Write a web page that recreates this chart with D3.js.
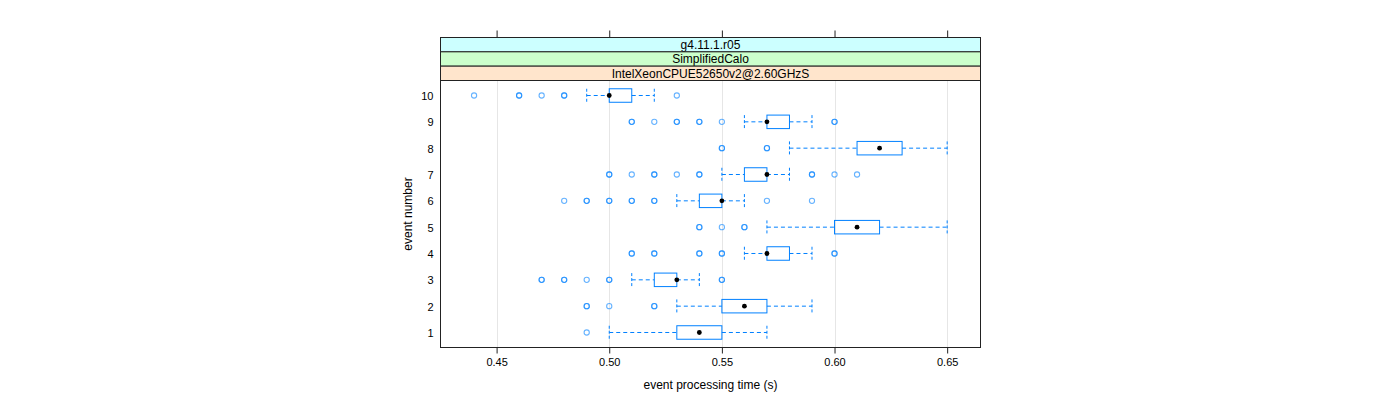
<!DOCTYPE html>
<html><head><meta charset="utf-8">
<script src="https://cdn.jsdelivr.net/npm/d3@7"></script>
<style>
html,body{margin:0;padding:0;background:#fff;}
svg{display:block;font-family:"Liberation Sans",Arial,sans-serif;}
</style></head>
<body><svg id="chart" width="1400" height="400"></svg>
<script>
// ---- data ----
const events = [1,2,3,4,5,6,7,8,9,10];
const lowerWhisker = [0.50,0.53,0.51,0.56,0.57,0.53,0.55,0.58,0.56,0.49];
const q1           = [0.53,0.55,0.52,0.57,0.60,0.54,0.56,0.61,0.57,0.50];
const medians      = [0.54,0.56,0.53,0.57,0.61,0.55,0.57,0.62,0.57,0.50];
const q3           = [0.55,0.57,0.53,0.58,0.62,0.55,0.57,0.63,0.58,0.51];
const upperWhisker = [0.57,0.59,0.54,0.59,0.65,0.56,0.58,0.65,0.59,0.52];
// outliers per event: [value, number of coinciding points]
const outliers = [
  [[0.49,1]],
  [[0.49,2],[0.50,1],[0.52,2]],
  [[0.47,2],[0.48,2],[0.49,1],[0.50,2],[0.55,2]],
  [[0.51,2],[0.52,2],[0.54,2],[0.55,2],[0.60,2]],
  [[0.54,2],[0.55,1],[0.56,2]],
  [[0.48,1],[0.49,2],[0.50,2],[0.51,2],[0.52,2],[0.57,1],[0.59,1]],
  [[0.50,2],[0.51,1],[0.52,2],[0.53,1],[0.54,2],[0.59,2],[0.60,1],[0.61,1]],
  [[0.55,2],[0.57,2]],
  [[0.51,2],[0.52,1],[0.53,2],[0.54,2],[0.55,1],[0.60,2]],
  [[0.44,1],[0.46,2],[0.47,1],[0.48,2],[0.53,1]]
];
const xTicks = [0.45,0.50,0.55,0.60,0.65];
const stripLabels = ["g4.11.1.r05","SimplifiedCalo","IntelXeonCPUE52650v2@2.60GHzS"];
const stripColors = ["#ccffff","#ccffcc","#ffe5cc"];
const xTitle = "event processing time (s)";
const yTitle = "event number";

// ---- layout ----
const L = 440.5, R = 980.5, T = 80.5, B = 347.5;
const stripTop = 37.5, stripH = (T - stripTop) / 3;
const blue = "#0080ff";

const x = d3.scaleLinear().domain([0.4251, 0.6648]).range([L, R]);
const y = d3.scaleLinear().domain([0.43, 10.57]).range([B, T]);
const boxH = 13.5;

const svg = d3.select("#chart");

// gridlines
svg.append("g").selectAll("line").data(xTicks).join("line")
  .attr("x1", d => Math.round(x(d)) + 0.5).attr("x2", d => Math.round(x(d)) + 0.5)
  .attr("y1", T).attr("y2", B)
  .attr("stroke", "#e6e6e6").attr("stroke-width", 1);

// strips
const strips = svg.append("g");
stripLabels.forEach((lab, i) => {
  const y0 = stripTop + i * stripH;
  strips.append("rect").attr("x", L).attr("y", y0).attr("width", R - L).attr("height", stripH)
    .attr("fill", stripColors[i]).attr("stroke", "#222").attr("stroke-width", 1);
  strips.append("text").attr("x", (L + R) / 2).attr("y", y0 + stripH / 2 + 4.3)
    .attr("text-anchor", "middle").attr("font-size", 12).attr("fill", "#000").text(lab);
});

// panel border
svg.append("rect").attr("x", L).attr("y", T).attr("width", R - L).attr("height", B - T)
  .attr("fill", "none").attr("stroke", "#222").attr("stroke-width", 1);

// axes
const xb = svg.append("g").attr("transform", `translate(0,${B})`)
  .call(d3.axisBottom(x).tickValues(xTicks).tickFormat(d3.format(".2f")).tickSize(6).tickPadding(5));
const xt = svg.append("g").attr("transform", `translate(0,${stripTop})`)
  .call(d3.axisTop(x).tickValues(xTicks).tickFormat("").tickSize(7));
const yl = svg.append("g").attr("transform", `translate(${L},0)`)
  .call(d3.axisLeft(y).tickValues(events).tickFormat(d3.format("d")).tickSize(0).tickPadding(7));
[xb, xt, yl].forEach(g => {
  g.select(".domain").remove();
  g.selectAll("line").attr("stroke", "#222");
  g.selectAll("text").attr("font-size", 11).attr("fill", "#000")
    .attr("font-family", '"Liberation Sans",Arial,sans-serif');
});
yl.selectAll("text").attr("dy", "0.35em");

// titles
svg.append("text").attr("x", (L + R) / 2).attr("y", 389).attr("text-anchor", "middle")
  .attr("font-size", 12).text(xTitle);
svg.append("text").attr("transform", `translate(412,${(T + B) / 2}) rotate(-90)`)
  .attr("text-anchor", "middle").attr("font-size", 12).text(yTitle);

// boxes
const g = svg.append("g");
events.forEach((ev, i) => {
  const cy = y(ev);
  const dash = "4,3";
  // whiskers
  g.append("line").attr("x1", x(lowerWhisker[i])).attr("x2", x(q1[i])).attr("y1", cy).attr("y2", cy)
    .attr("stroke", blue).attr("stroke-dasharray", dash);
  g.append("line").attr("x1", x(q3[i])).attr("x2", x(upperWhisker[i])).attr("y1", cy).attr("y2", cy)
    .attr("stroke", blue).attr("stroke-dasharray", dash);
  [lowerWhisker[i], upperWhisker[i]].forEach(v => {
    g.append("line").attr("x1", x(v)).attr("x2", x(v)).attr("y1", cy - boxH / 2).attr("y2", cy + boxH / 2)
      .attr("stroke", blue).attr("stroke-dasharray", "3,2");
  });
  // box
  g.append("rect").attr("x", x(q1[i])).attr("y", cy - boxH / 2)
    .attr("width", Math.max(0, x(q3[i]) - x(q1[i]))).attr("height", boxH)
    .attr("fill", "none").attr("stroke", blue).attr("stroke-width", 1);
  // outliers
  outliers[i].forEach(([v, n]) => {
    for (let k = 0; k < n; k++) {
      g.append("circle").attr("cx", x(v)).attr("cy", cy).attr("r", 2.6)
        .attr("fill", "none").attr("stroke", blue).attr("stroke-opacity", 0.6).attr("stroke-width", 1.1);
    }
  });
  // median
  g.append("circle").attr("cx", x(medians[i])).attr("cy", cy).attr("r", 2.4).attr("fill", "#000");
});
</script></body></html>
